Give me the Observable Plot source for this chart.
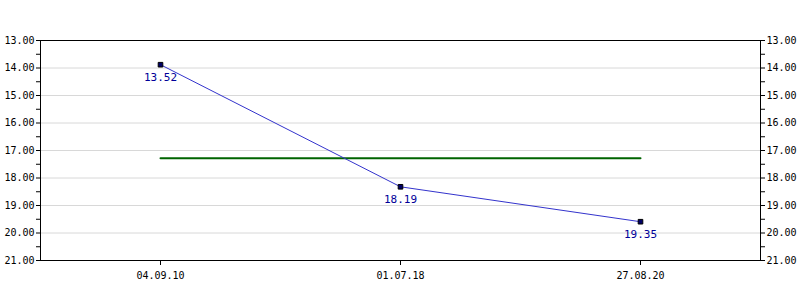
<!DOCTYPE html>
<html>
<head>
<meta charset="utf-8">
<script src="https://cdn.jsdelivr.net/npm/d3@7"></script>
<script src="https://cdn.jsdelivr.net/npm/@observablehq/plot@0.6"></script>
<style>
  html, body { margin: 0; padding: 0; background: #fff; }
</style>
</head>
<body>
<div id="chart"></div>
<script>
const dates = ["04.09.10", "01.07.18", "27.08.20"];
const values = [13.88, 18.32, 19.59];
const labels = ["13.52", "18.19", "19.35"];
const average = 17.28;
const yTicks = [13, 14, 15, 16, 17, 18, 19, 20, 21];
const yMinor = [13.5, 14.5, 15.5, 16.5, 17.5, 18.5, 19.5, 20.5];

const data = dates.map((d, i) => ({date: d, value: values[i], label: labels[i]}));
const avgLine = [{date: dates[0], value: average}, {date: dates[dates.length - 1], value: average}];
const fmt = d => d.toFixed(2);

const chart = Plot.plot({
  width: 800,
  height: 300,
  marginLeft: 40,
  marginRight: 40,
  marginTop: 40,
  marginBottom: 40,
  style: {fontFamily: "DejaVu Sans Mono", fontSize: "10px", color: "#000", background: "#fff"},
  x: {type: "point", domain: dates, padding: 0.5},
  y: {domain: [13, 21], reverse: true},
  marks: [
    Plot.gridY(yTicks, {stroke: "#d8d8d8", strokeOpacity: 1}),
    Plot.frame({stroke: "#000"}),
    Plot.axisY(yTicks, {anchor: "left", tickSize: 4, tickPadding: 2, tickFormat: fmt, stroke: "#000", fill: "#000", label: null}),
    Plot.axisY(yMinor, {anchor: "left", tickSize: 4, tickFormat: () => "", stroke: "#000", label: null}),
    Plot.axisY(yTicks, {anchor: "right", tickSize: 4, tickPadding: 2, tickFormat: fmt, stroke: "#000", fill: "#000", label: null}),
    Plot.axisY(yMinor, {anchor: "right", tickSize: 4, tickFormat: () => "", stroke: "#000", label: null}),
    Plot.axisX({anchor: "bottom", tickSize: 5, tickPadding: 6, stroke: "#000", fill: "#000", label: null}),
    Plot.line(avgLine, {x: "date", y: "value", stroke: "#006400", strokeWidth: 2}),
    Plot.line(data, {x: "date", y: "value", stroke: "#3333cc", strokeWidth: 1}),
    Plot.dot(data, {x: "date", y: "value", symbol: "square", r: 2.6, fill: "#000066", stroke: "#000", strokeWidth: 1}),
    Plot.text(data, {x: "date", y: "value", text: "label", dy: 13, fill: "#000099", fontSize: 11})
  ]
});
document.getElementById("chart").appendChild(chart);
</script>
</body>
</html>
